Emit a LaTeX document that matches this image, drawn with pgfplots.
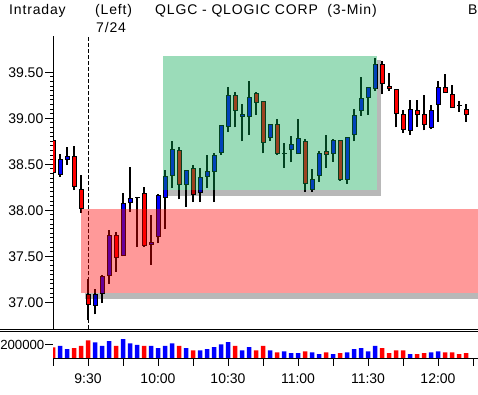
\documentclass[border=0pt]{standalone}
\usepackage{fontspec}
\setmainfont{Liberation Sans}
\usepackage{pgfplots}
\pgfplotsset{compat=1.18}
\usepackage{pgfplotstable}
\definecolor{cblue}{RGB}{0,0,255}
\definecolor{cred}{RGB}{255,0,0}
\definecolor{ovgreen}{RGB}{5,167,80}

% red (down) candles: index (3-min bars from 9:30), high, low, body top, body bottom, volume
\pgfplotstableread{
i h l top bot v
-5 38.79 38.37 38.76 38.41 158000
-2 38.70 38.22 38.58 38.26 148000
-1 38.38 37.97 38.23 38.02 178000
0 37.25 36.81 37.08 36.98 262000
4 37.76 37.33 37.73 37.49 178000
8 38.25 37.60 38.18 37.62 178000
13 38.69 38.12 38.65 38.28 178000
15 38.49 38.09 38.45 38.17 114000
21 39.29 38.90 39.25 39.09 178000
24 39.29 39.04 39.27 39.17 114000
25 39.18 38.62 39.18 38.74 178000
27 38.99 38.60 38.93 38.62 84000
31 38.78 38.20 38.75 38.29 99000
34 38.82 38.46 38.64 38.61 84000
36 38.76 38.32 38.76 38.33 74000
42 39.62 39.26 39.59 39.38 148000
43 39.49 39.30 39.35 39.32 74000
44 39.31 38.90 39.31 39.05 114000
45 39.09 38.84 39.04 38.88 114000
47 39.20 38.91 39.09 39.04 59000
48 39.25 38.87 39.04 38.93 74000
51 39.48 39.28 39.34 39.28 84000
52 39.36 39.11 39.26 39.12 84000
53 39.19 39.07 39.14 39.14 59000
54 39.16 38.96 39.10 39.04 74000
}\redc

% blue (up) candles
\pgfplotstableread{
i h l top bot v
-4 38.61 38.36 38.55 38.39 178000
-3 38.69 38.49 38.58 38.55 133000
1 37.14 36.87 37.09 36.97 232000
2 37.30 36.99 37.28 37.10 178000
3 37.79 37.20 37.73 37.29 252000
5 38.19 37.50 38.07 37.51 281000
6 38.47 37.98 38.13 38.08 217000
7 38.14 37.60 38.14 38.14 193000
9 37.95 37.41 37.65 37.63 178000
10 38.18 37.64 38.16 37.71 148000
11 38.44 37.80 38.37 38.14 178000
12 38.75 38.24 38.66 38.38 217000
14 38.43 38.04 38.43 38.28 148000
16 38.46 38.09 38.36 38.19 114000
17 38.60 38.24 38.42 38.37 133000
18 38.62 38.09 38.60 38.42 163000
19 38.92 38.60 38.92 38.63 202000
20 39.34 38.85 39.25 38.91 237000
22 39.16 38.75 39.04 39.02 114000
23 39.41 38.82 39.23 39.02 163000
26 38.93 38.75 38.93 38.79 114000
28 38.73 38.46 38.62 38.62 99000
29 38.81 38.52 38.71 38.66 74000
30 38.99 38.61 38.78 38.62 74000
32 38.45 38.20 38.33 38.23 84000
33 38.64 38.31 38.62 38.38 59000
35 38.78 38.53 38.76 38.62 59000
37 38.79 38.29 38.79 38.34 84000
38 39.10 38.75 39.03 38.82 133000
39 39.45 39.03 39.21 39.09 148000
40 39.34 39.04 39.34 39.23 99000
41 39.66 39.30 39.59 39.32 178000
46 39.20 38.82 39.10 38.87 59000
49 39.14 38.88 39.08 38.90 84000
50 39.41 38.96 39.33 39.15 99000
}\bluec

\pgfplotsset{
  wick/.style={draw=none, mark=none, forget plot,
    error bars/.cd, y dir=plus, y explicit, error mark=none,
    error bar style={draw=black, line width=1.2pt, line cap=butt}},
  bodyout/.style={draw=none, mark=none, forget plot,
    error bars/.cd, y dir=plus, y explicit, error mark=none,
    error bar style={draw=black, line width=5pt, line cap=butt}},
  bodyin/.style={draw=none, mark=none, forget plot,
    error bars/.cd, y dir=plus, y explicit, error mark=none,
    error bar style={draw=#1, line width=3pt, line cap=butt}},
}

\begin{document}
\fontsize{14}{16}\selectfont
\begin{tikzpicture}[x=1pt,y=1pt]
\path[use as bounding box] (0,0) rectangle (478,395);
% header
\begingroup\addfontfeature{LetterSpace=6}
\node[anchor=base west, inner sep=0] at (9,380) {Intraday};
\node[anchor=base west, inner sep=0] at (95,380) {(Left)};
\node[anchor=base west, inner sep=0] at (155,380) {QLGC - QLOGIC CORP\ \ (3-Min)};
\node[anchor=base west, inner sep=0] at (468,380) {B};
\node[anchor=base west, inner sep=0] at (96,362) {7/24};
\endgroup

\begin{axis}[
  at={(53pt,66pt)}, anchor=south west, scale only axis,
  width=425pt, height=293pt,
  xmin=-5, xmax=55.714, ymin=36.7098, ymax=39.8946,
  hide x axis, axis y line*=left,
  axis line style={line width=0.8pt},
  ytick={37,37.5,...,39.5}, minor y tick num=9,
  tick align=outside, major tick length=8pt, minor tick length=3pt,
  tick style={black, line width=0.8pt},
  /pgf/number format/assume math mode=true,
  yticklabel style={/pgf/number format/fixed, /pgf/number format/fixed zerofill,
    /pgf/number format/precision=2, inner sep=1.5pt, font=\fontsize{14}{16}\selectfont},
]
\draw[black, line width=0.8pt, dash pattern=on 4pt off 2pt] (axis cs:0,36.7098) -- (axis cs:0,39.8946);
% wicks
\addplot[wick] table[x=i, y=l, y error plus expr=\thisrow{h}-\thisrow{l}] {\redc};
\addplot[wick] table[x=i, y=l, y error plus expr=\thisrow{h}-\thisrow{l}] {\bluec};
% bodies
\addplot[bodyout] table[x=i, y expr=\thisrow{bot}-0.0055, y error plus expr=\thisrow{top}-\thisrow{bot}+0.011] {\redc};
\addplot[bodyout] table[x=i, y expr=\thisrow{bot}-0.0055, y error plus expr=\thisrow{top}-\thisrow{bot}+0.011] {\bluec};
\addplot[bodyin=cred] table[x=i, y expr=\thisrow{bot}+0.0055, y error plus expr={max(\thisrow{top}-\thisrow{bot}-0.011,0)}] {\redc};
\addplot[bodyin=cblue] table[x=i, y expr=\thisrow{bot}+0.0055, y error plus expr={max(\thisrow{top}-\thisrow{bot}-0.011,0)}] {\bluec};
% overlay zones
\fill[black, opacity=0.28] (axis cs:11.24,38.16) rectangle (axis cs:41.9,38.221);
\fill[black, opacity=0.28] (axis cs:41.33,38.221) rectangle (axis cs:41.9,39.634);
\fill[ovgreen, opacity=0.4] (axis cs:10.67,38.221) rectangle (axis cs:41.33,39.677);
\fill[black, opacity=0.28] (axis cs:-0.43,37.04) rectangle (axis cs:57,37.098);
\fill[cred, opacity=0.4] (axis cs:-1,37.098) rectangle (axis cs:57,38.014);
\end{axis}

\draw[line width=0.8pt] (0,65.7) -- (478,65.7);
\draw[line width=0.8pt] (0,63.3) -- (478,63.3);

\begin{axis}[
  at={(53pt,37pt)}, anchor=south west, scale only axis,
  width=425pt, height=26.3pt,
  xmin=-5, xmax=55.714, ymin=0, ymax=390000,
  axis x line*=bottom, axis y line*=left,
  y axis line style={draw=none},
  axis line style={line width=0.8pt},
  xtick={-5,0,...,55},
  xticklabels={,9:30,,10:00,,10:30,,11:00,,11:30,,12:00,},
  ytick={200000}, yticklabels={200000}, scaled y ticks=false,
  tick align=outside, major tick length=8pt,
  tick style={black, line width=0.8pt},
  xticklabel style={font=\fontsize{14}{16}\selectfont, yshift=-3pt},
  yticklabel style={font=\fontsize{13.2}{15}\selectfont, inner sep=0.5pt},
]
\addplot[ybar, bar width=4.5pt, bar shift=0pt, fill=cred, draw=none] table[x=i, y=v] {\redc};
\addplot[ybar, bar width=4.5pt, bar shift=0pt, fill=cblue, draw=none] table[x=i, y=v] {\bluec};
\end{axis}
\end{tikzpicture}
\end{document}
